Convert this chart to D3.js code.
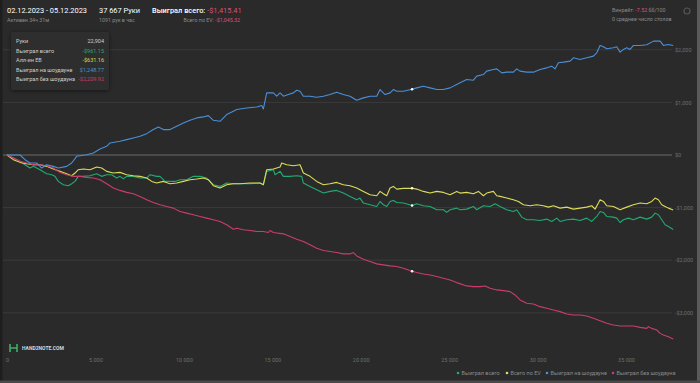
<!DOCTYPE html>
<html><head><meta charset="utf-8">
<script src="https://cdn.jsdelivr.net/npm/d3@7"></script>
<style>
html,body{margin:0;padding:0;background:#2a2a2b;}
svg{display:block;font-family:Roboto,"Noto Sans",sans-serif;}
</style></head><body>
<svg id="c" width="700" height="383"></svg>
<script>
// ---- data (hands, $) ----
const blueHands = [0,735,1018,1301,1678,1960,2243,2620,2903,3374,3657,3940,4505,4882,5259,5636,5825,6390,6767,7144,7521,7898,8275,8558,8841,9218,9595,9972,10349,10726,11103,11385,11668,12045,12422,12799,12988,13553,14119,14401,14496,14684,15061,15250,15438,15627,15910,16192,16381,16569,16758,17135,17512,17889,18266,18643,19020,19397,19774,20151,20528,20905,21093,21376,21659,21847,22036,22413,22904,23167,23544,23921,24298,24675,25052,25429,25617,25994,26371,26560,26937,27125,27502,27691,27974,28256,28633,28822,29010,29387,29764,30141,30518,30801,30989,31178,31461,31838,32026,32403,32780,33157,33346,33534,33723,33911,34288,34477,34665,34854,35042,35231,35420,35797,36174,36551,36928,37116,37399,37667];
const blueValues = [0,0,-89,-152,-152,-248,-184,-216,-248,-216,-152,-25,6,38,114,165,229,260,292,324,356,406,483,533,483,483,546,610,660,705,724,749,660,641,768,832,864,895,914,940,876,1181,1181,1118,1181,1118,1149,1181,1232,1213,1118,1118,1099,1118,1149,1194,1149,1118,1041,1086,1118,1118,1245,1149,1181,1245,1213,1213,1249,1276,1308,1276,1245,1245,1276,1340,1372,1435,1422,1499,1530,1594,1626,1638,1562,1575,1575,1638,1594,1575,1575,1626,1657,1689,1638,1753,1765,1784,1848,1816,1848,1880,1943,2083,2057,2019,2038,2057,1956,2007,2038,2007,2083,2083,2096,2165,2165,2083,2102,2083];

const redHands = [0,358,735,1112,1489,1866,2243,2620,2997,3374,3751,4128,4505,4882,5259,5636,6013,6390,6767,7144,7521,7898,8275,8652,9029,9406,9783,10160,10537,10914,11291,11668,12045,12422,12799,12988,13365,13742,14119,14496,14778,14873,15061,15627,16004,16381,16758,17135,17512,17889,18266,18643,19020,19397,19585,19774,20151,20528,20905,21282,21659,22036,22413,22904,23167,23544,23921,24298,24675,25052,25429,25994,26371,26748,27031,27314,27691,28068,28445,28727,29010,29387,29764,30141,30518,30895,31272,31649,32026,32403,32780,33157,33534,33911,34288,34665,35042,35420,35797,36174,36267,36456,36739,36928,37116,37399,37667];
const redValues = [0,-57,-121,-152,-184,-184,-203,-248,-330,-375,-406,-406,-425,-438,-470,-546,-629,-673,-711,-737,-787,-851,-902,-946,-978,-1010,-1073,-1105,-1137,-1168,-1200,-1232,-1264,-1327,-1410,-1391,-1422,-1435,-1454,-1454,-1473,-1435,-1473,-1499,-1549,-1600,-1645,-1708,-1772,-1816,-1835,-1854,-1880,-1880,-1854,-1918,-1981,-2026,-2070,-2089,-2108,-2121,-2153,-2210,-2235,-2261,-2280,-2311,-2343,-2375,-2426,-2489,-2502,-2502,-2489,-2534,-2565,-2578,-2597,-2661,-2756,-2819,-2832,-2883,-2915,-2946,-2978,-3023,-3042,-3042,-3061,-3105,-3150,-3200,-3232,-3251,-3251,-3251,-3277,-3296,-3264,-3296,-3327,-3391,-3423,-3454,-3498];

const greenHands = [0,358,735,1018,1301,1489,1866,2243,2526,2714,2903,3186,3468,3657,3845,4034,4317,4694,5071,5353,5636,5919,6202,6390,6579,6767,7144,7521,7898,8087,8464,8652,8935,9218,9500,9783,10160,10537,10914,11291,11668,12045,12422,12799,13176,13742,14308,14496,14684,15061,15156,15438,15627,16004,16381,16664,16758,17135,17512,17889,18266,18643,19020,19397,19774,19962,20151,20528,20905,21093,21282,21471,21659,21847,22036,22413,22904,23167,23544,23921,24298,24675,24864,25052,25429,25617,25994,26371,26560,26937,27314,27597,27879,28256,28633,28822,29105,29387,29764,30141,30518,30801,31084,31272,31649,32026,32403,32780,33063,33346,33534,33723,33911,34288,34477,34665,34854,35137,35420,35797,36174,36456,36645,36833,37022,37211,37399,37667];
const greenValues = [0,-57,-121,-184,-248,-216,-279,-356,-375,-406,-502,-565,-584,-546,-502,-406,-406,-394,-356,-406,-375,-375,-438,-406,-451,-406,-406,-438,-438,-375,-406,-406,-502,-502,-502,-470,-470,-406,-406,-438,-565,-597,-533,-546,-546,-546,-533,-565,-311,-279,-375,-311,-406,-406,-394,-406,-533,-597,-660,-724,-692,-673,-724,-787,-851,-819,-914,-946,-978,-883,-946,-978,-883,-864,-902,-914,-961,-927,-965,-978,-1041,-1041,-1092,-1041,-1010,-1041,-1029,-978,-1041,-965,-978,-927,-978,-1041,-1073,-1041,-1181,-1232,-1232,-1245,-1219,-1264,-1200,-1264,-1232,-1219,-1245,-1200,-1264,-1168,-1073,-1092,-1168,-1181,-1200,-1283,-1232,-1200,-1232,-1181,-1219,-1181,-1105,-1137,-1232,-1327,-1359,-1415];

const yellowHands = [0,358,735,1112,1489,1866,2243,2620,2997,3374,3657,3845,4034,4317,4694,5071,5353,5636,6013,6390,6767,7144,7521,7898,8181,8464,8841,9218,9595,9972,10349,10726,11103,11385,11668,12045,12422,12799,13176,13742,14308,14496,14684,15061,15438,15533,15815,16192,16569,16758,17135,17512,17889,18266,18643,19020,19397,19774,20151,20528,20905,21093,21282,21471,21659,21847,22036,22413,22904,23167,23544,23921,24298,24675,25052,25429,25617,25994,26371,26654,26937,27125,27502,27691,27879,28256,28633,28916,29199,29576,29953,30330,30612,30895,31272,31649,32026,32403,32780,33063,33251,33440,33534,33723,33911,34288,34665,35042,35420,35797,36174,36456,36645,36833,37022,37211,37399,37667];
const yellowValues = [0,-89,-140,-165,-184,-184,-216,-267,-311,-356,-394,-343,-279,-267,-279,-229,-248,-311,-343,-330,-375,-394,-406,-438,-502,-533,-502,-546,-533,-502,-470,-457,-438,-470,-584,-629,-565,-546,-546,-533,-533,-565,-279,-267,-229,-152,-184,-203,-184,-343,-406,-502,-565,-546,-521,-565,-584,-629,-692,-756,-775,-692,-737,-775,-629,-597,-648,-635,-631,-648,-692,-724,-692,-711,-756,-692,-724,-711,-737,-692,-775,-724,-692,-775,-787,-819,-851,-883,-946,-965,-946,-965,-991,-965,-1010,-991,-1029,-1010,-991,-965,-1029,-914,-851,-883,-965,-978,-1041,-991,-946,-914,-927,-883,-819,-851,-946,-978,-1010,-1045];

const xTicks = [0,5000,10000,15000,20000,25000,30000,35000];
const xTickLabels = ["0","5 000","10 000","15 000","20 000","25 000","30 000","35 000"];
const yTicks = [2000,1000,0,-1000,-2000,-3000];
const yTickLabels = ["$2,000","$1,000","$0","-$1,000","-$2,000","-$3,000"];

const seriesNames = ["Выиграл всего","Всего по EV","Выиграл на шоудауне","Выиграл без шоудауна"];
const seriesColors = ["#23a972","#dcdc58","#4a8fd6","#c93d6b"];
const hoverHand = 22904;
const tooltipLabels = ["Выиграл всего","Алл-ин EB","Выиграл на шоудауне","Выиграл без шоудауна"];
const tooltipValues = ["-$961.15","-$631.16","$1,248.77","-$2,209.92"];
const tooltipColors = ["#23a972","#dcdc58","#4a8fd6","#c93d6b"];

// ---- chart ----
const svg = d3.select("#c");
svg.append("rect").attr("width",700).attr("height",383).attr("fill","#2a2a2b");
svg.append("rect").attr("x",0).attr("y",0).attr("width",2.5).attr("height",383).attr("fill","#1e1e1f");
svg.append("rect").attr("x",697).attr("y",0).attr("width",3).attr("height",383).attr("fill","#5a5a5a");
svg.append("rect").attr("x",0).attr("y",380.5).attr("width",700).attr("height",2.5).attr("fill","#4a4a4a");

const x = d3.scaleLinear().domain([0,35000]).range([7,626]);
const y = d3.scaleLinear().domain([-3000,2000]).range([312.8,49.8]);

// grid
const g = svg.append("g");
g.selectAll("line.grid").data(yTicks).join("line")
  .attr("x1",3).attr("x2",672).attr("y1",d=>y(d)).attr("y2",d=>y(d))
  .attr("stroke",d=>d===0?"#6b6b6b":"#3b3b3c").attr("stroke-width",1);

// y labels
const yAxis = d3.axisRight(y).tickValues(yTicks).tickSize(0).tickPadding(0)
  .tickFormat((d,i)=>yTickLabels[i]);
const ya = svg.append("g").attr("transform","translate(675,0)").call(yAxis);
ya.select(".domain").remove();
ya.selectAll("text").attr("fill","#6e6e6e").style("font-size","5.5px").style("font-family","Roboto");

// x labels
const xAxis = d3.axisBottom(x).tickValues(xTicks).tickSize(0).tickPadding(0)
  .tickFormat((d,i)=>xTickLabels[i]);
const xa = svg.append("g").attr("transform","translate(0,358)").call(xAxis);
xa.select(".domain").remove();
xa.selectAll("text").attr("fill","#6e6e6e").style("font-size","5.5px").style("font-family","Roboto");

// lines
const series = [
  {h:greenHands,v:greenValues,c:seriesColors[0]},
  {h:yellowHands,v:yellowValues,c:seriesColors[1]},
  {h:redHands,v:redValues,c:seriesColors[3]},
  {h:blueHands,v:blueValues,c:seriesColors[2]}
];
const line = d3.line().x(d=>x(d[0])).y(d=>y(d[1]));
series.forEach(s=>{
  const pts = s.h.map((h,i)=>[h,s.v[i]]);
  svg.append("path").datum(pts).attr("d",line).attr("fill","none")
    .attr("stroke",s.c).attr("stroke-width",1.1).attr("stroke-linejoin","round");
});
// hover markers
series.forEach(s=>{
  const vv = d3.scaleLinear().domain(s.h).range(s.v)(hoverHand);
  svg.append("circle").attr("cx",x(hoverHand)).attr("cy",y(vv)).attr("r",1.3).attr("fill","#ffffff");
});

// header
const hdr = svg.append("g").style("font-family","Roboto");
hdr.append("text").attr("x",7).attr("y",13).attr("fill","#ffffff").style("font-size","7.4px").text("02.12.2023 - 05.12.2023");
hdr.append("text").attr("x",7).attr("y",21.5).attr("fill","#8a8a8a").style("font-size","5.3px").text("Активен 34ч 31м");
hdr.append("text").attr("x",99).attr("y",13).attr("fill","#ffffff").style("font-size","7.4px").text("37 667 Руки");
hdr.append("text").attr("x",99).attr("y",21.5).attr("fill","#8a8a8a").style("font-size","5.3px").text("1091 рук в час");
const t1 = hdr.append("text").attr("x",152).attr("y",13).style("font-size","7.4px");
t1.append("tspan").attr("fill","#ffffff").style("font-weight","500").text("Выиграл всего: ");
t1.append("tspan").attr("fill","#d8527a").text("-$1,415.41");
const t2 = hdr.append("text").attr("x",240).attr("y",21.5).attr("text-anchor","end").style("font-size","5.3px");
t2.append("tspan").attr("fill","#8a8a8a").text("Всего по EV: ");
t2.append("tspan").attr("fill","#d8527a").text("-$1,045.32");
const t3 = hdr.append("text").attr("x",612).attr("y",12).style("font-size","5.3px");
t3.append("tspan").attr("fill","#8a8a8a").text("Винрейт: ");
t3.append("tspan").attr("fill","#d8527a").text("-7.52");
t3.append("tspan").attr("fill","#8a8a8a").text(" бб/100");
hdr.append("text").attr("x",612).attr("y",21).attr("fill","#8a8a8a").style("font-size","5.3px").text("0 среднее число столов");
hdr.append("circle").attr("cx",687).attr("cy",11).attr("r",3).attr("fill","none").attr("stroke","#555").attr("stroke-width",1.2);

// tooltip
const tt = svg.append("g");
const defs = svg.append("defs");
const f = defs.append("filter").attr("id","sh").attr("x","-20%").attr("y","-20%").attr("width","140%").attr("height","140%");
f.append("feDropShadow").attr("dx",0).attr("dy",1).attr("stdDeviation",2).attr("flood-color","#000").attr("flood-opacity",0.5);
tt.append("rect").attr("x",11).attr("y",32).attr("width",98).attr("height",58).attr("rx",2)
  .attr("fill","#2e2e2f").attr("filter","url(#sh)");
const rows = [["Руки","22,904","#cfcfcf"]].concat(tooltipLabels.map((l,i)=>[l,tooltipValues[i],tooltipColors[i]]));
rows.forEach((r,i)=>{
  const yy = 43 + i*9.6;
  tt.append("text").attr("x",16).attr("y",yy).attr("fill","#cfcfcf").style("font-size","5.5px").style("font-family","Roboto").text(r[0]);
  tt.append("text").attr("x",104).attr("y",yy).attr("text-anchor","end").attr("fill",r[2]).style("font-size","5.5px").style("font-family","Roboto").text(r[1]);
});

// logo
const lg = svg.append("g");
lg.append("path").attr("d","M10,344 v8 M10,348 h7 M17,344 v8").attr("stroke","#3fae6b").attr("stroke-width",1.6).attr("fill","none");
lg.append("text").attr("x",22).attr("y",350).attr("fill","#d8d8d8").style("font-size","5px").style("font-weight","700").style("font-family","Roboto").text("HAND2NOTE.COM");

// legend
const legX = [458,507,547,613];
seriesNames.forEach((n,i)=>{
  svg.append("circle").attr("cx",legX[i]).attr("cy",373).attr("r",1.3).attr("fill",seriesColors[i]);
  svg.append("text").attr("x",legX[i]+3.5).attr("y",375).attr("fill","#8a8a8a").style("font-size","5.5px").style("font-family","Roboto").text(n);
});
</script>
</body></html>
